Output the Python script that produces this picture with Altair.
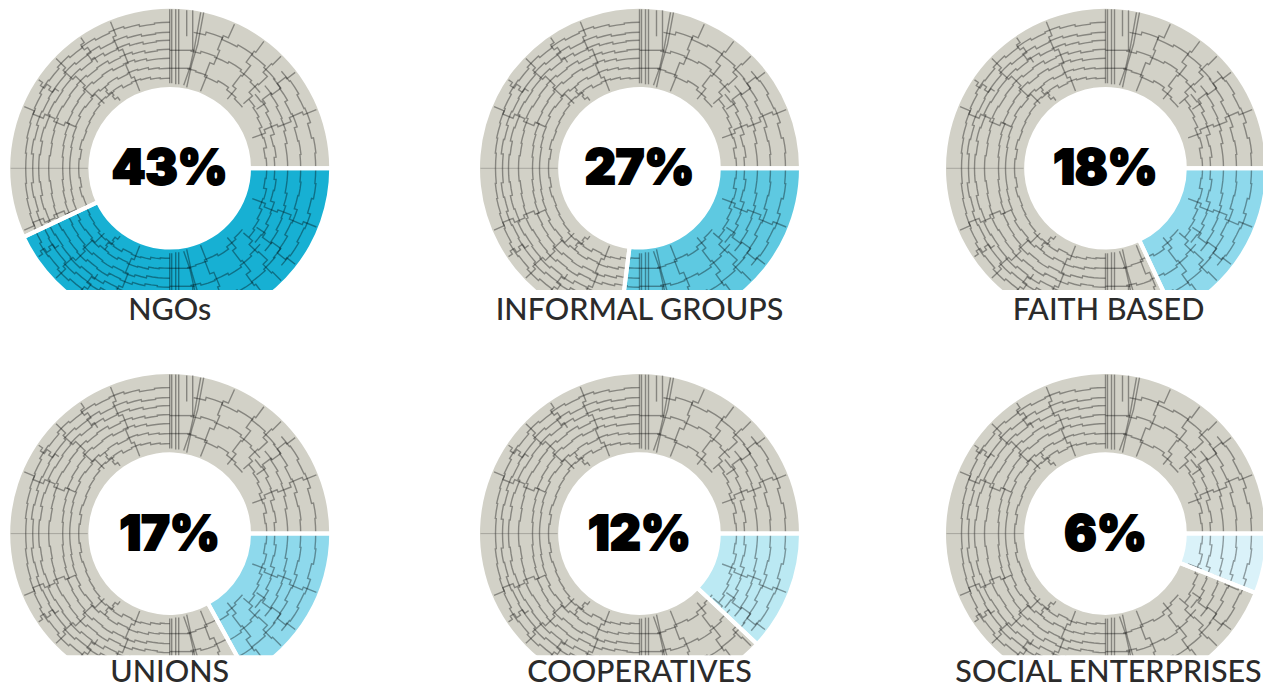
import altair as alt
import math
import pandas as pd

NAMES = ["NGOs", "INFORMAL GROUPS", "FAITH BASED", "UNIONS", "COOPERATIVES", "SOCIAL ENTERPRISES"]
PCTS = [43, 27, 18, 17, 12, 6]
COLORS = ["#17b0d3", "#5ec9e1", "#8ed9ec", "#8ed9ec", "#bbe9f3", "#daf2f9"]
GREY = "#d2d1c7"

# Texture: ring radii per angle (degrees, counter-clockwise from east)
LEFT_ANGLES = [90, 96, 102, 108, 114, 120, 126, 132, 138, 144, 150, 156, 162, 168, 174, 180]
LEFT_RINGS = [
    [146, 145, 147, 149, 148, 150, 149, 151, 149, 150, 148, 147, 146, 145, 144, 143],
    [136, 135, 137, 139, 138, 141, 140, 142, 140, 140, 139, 140, 138, 139, 137, 138],
    [128, 127, 129, 131, 130, 133, 132, 134, 133, 132, 133, 131, 132, 130, 131, 131],
    [119, 118, 120, 122, 121, 124, 123, 125, 124, 123, 124, 122, 121, 120, 121, 120],
    [110, 110, 112, 114, 113, 115, 114, 116, 114, 113, 112, 110, 109, 108, 107, 107],
    [100, 101, 103, 104, 103, 105, 104, 106, 104, 105, 103, 102, 101, 100, 100, 99],
    [90, 91, 93, 94, 93, 96, 95, 96, 94, 93, 92, 91, 92, 90, 91, 90],
]
RIGHT_ANGLES = [0, 6, 12, 18, 24, 30, 36, 41]
RIGHT_RINGS = [
    [146, 147, 145, 148, 147, 149, 148, 151],
    [131, 132, 131, 134, 133, 136, 137, 140],
    [118, 118, 120, 122, 123, 125, 126, 129],
    [105, 107, 106, 110, 111, 114, 113, 117],
    [97, 96, 99, 98, 101, 103, 105, 106],
]
CELL_ANGLES = [40, 47, 54, 61, 68, 75, 80]
CELL_RINGS = [
    [138, 140, 141, 139, 141, 138, 137],
    [118, 120, 122, 120, 121, 119, 118],
    [95, 97, 100, 98, 100, 101, 99],
]
# (angle at inner end, angle at outer end, inner radius, outer radius)
SPOKES = [
    (69, 66, 83, 158), (51, 55, 90, 158), (42, 47, 98, 158), (35, 39, 105, 158),
    (21, 23, 88, 158), (112, 113, 83, 158), (125, 125, 128, 158), (136, 137, 92, 158),
    (146, 147, 135, 158), (157, 158, 103, 158), (127, 130, 84, 104),
]
# Vertical bundle near the top: (x offsets, y offsets)
BUNDLE = [
    ([0, 0], [85, 159]), ([2, 2], [85, 159]), ([6, 6], [84, 159]), ([9, 9], [84, 159]),
    ([17, 17], [132, 158]), ([23, 23], [118, 158]),
    ([34, 28, 22, 17], [156, 124, 104, 81]), ([31, 25, 20, 14], [156, 122, 100, 83]),
    ([0, 25], [118, 118]), ([0, 21], [100, 100]),
]
THIN_X = [-159, -82]
THIN_Y = [0, 0]

rows = []
counter = [0]


def put(pts):
    counter[0] += 1
    for sign in (1, -1):
        for k, (a, r) in enumerate(pts):
            rows.append({"s": f"{counter[0]}_{sign}", "k": k,
                         "x": r * math.cos(math.radians(a)),
                         "y": sign * r * math.sin(math.radians(a))})


def ring(angles, radii):
    pts = []
    for i in range(len(angles) - 1):
        a0, a1 = angles[i], angles[i + 1]
        pts += [(a0, radii[i]), ((a0 + a1) / 2, radii[i]), (a1, radii[i])]
    put(pts)


def spoke(a0, a1, r0, r1):
    n = 5
    pts = []
    for i in range(n):
        a = a0 + (a1 - a0) * i / n + (0.8 if i % 2 else -0.8)
        pts += [(a, r0 + (r1 - r0) * i / n), (a, r0 + (r1 - r0) * (i + 1) / n)]
    put(pts)


for rs in LEFT_RINGS:
    ring(LEFT_ANGLES, rs)
for rs in RIGHT_RINGS:
    ring(RIGHT_ANGLES, rs)
for rs in CELL_RINGS:
    ring(CELL_ANGLES, rs)
for s in SPOKES:
    spoke(*s)
for j, (xs, ys) in enumerate(BUNDLE):
    for sign in (1, -1):
        for k, (x, y) in enumerate(zip(xs, ys)):
            rows.append({"s": f"b{j}_{sign}", "k": k, "x": x, "y": sign * y})
texture = pd.DataFrame(rows)
thin = pd.DataFrame({"x": THIN_X, "y": THIN_Y})

OUTER, INNER = 159.5, 81.3
CLIP_Y = -121.7
t_scale = alt.Scale(domain=[0, 100], range=[math.pi / 2, math.pi / 2 + 2 * math.pi])
# per row: plot height, centre below plot top, label baseline relative to centre
ROWS = [(314, 160.3, -151.2), (309, 160.6, -148.4)]
# per column: plot width, centre from plot left, label offset from centre
COLS = [(323, 161.7, 0), (324, 163.5, 0), (318, 160.5, 3)]


def panel(name, pct, color, row, col):
    H, CY, LABEL_Y = ROWS[row]
    W, CX, LABEL_X = COLS[col]
    x_scale = alt.Scale(domain=[-CX, W - CX], range=[0, W], nice=False, zero=False)
    y_scale = alt.Scale(domain=[CY - H, CY], range=[H, 0], nice=False, zero=False)
    X = alt.X("cx:Q", scale=x_scale, axis=None)
    Y = alt.Y("cy:Q", scale=y_scale, axis=None)
    arcs = pd.DataFrame({"a": [0, pct], "b": [pct, 100], "fill": [color, GREY], "cx": [0, 0], "cy": [0, 0]})
    base = alt.Chart(arcs).encode(
        x=X, y=Y,
        theta=alt.Theta("a:Q", scale=t_scale, stack=None),
        theta2="b:Q",
    )
    fills = base.mark_arc(radius=OUTER, radius2=INNER, clip=True).encode(color=alt.Color("fill:N", scale=None))
    line_x = alt.X("x:Q", scale=x_scale, axis=None)
    line_y = alt.Y("y:Q", scale=y_scale, axis=None)
    lines = alt.Chart(texture).mark_line(
        color="#000000", opacity=0.36, strokeWidth=1.4, clip=True
    ).encode(x=line_x, y=line_y, detail="s:N", order="k:Q")
    faint = alt.Chart(thin).mark_line(color="#000000", opacity=0.3, strokeWidth=0.7, clip=True).encode(x=line_x, y=line_y)
    seps = base.mark_arc(radius=OUTER + 3, radius2=INNER - 3, fillOpacity=0, stroke="#ffffff", strokeWidth=4, clip=True)
    mask = alt.Chart(pd.DataFrame({"x0": [-CX], "x1": [W - CX], "y0": [CLIP_Y], "y1": [CY - H]})).mark_rect(
        color="#ffffff", clip=True
    ).encode(
        x=alt.X("x0:Q", scale=x_scale, axis=None), x2="x1:Q",
        y=alt.Y("y0:Q", scale=y_scale, axis=None), y2="y1:Q",
    )
    pct_text = alt.Chart(pd.DataFrame({"t": [f"{pct}%"], "cx": [0], "cy": [0]})).mark_text(
        font="Inter", fontSize=48, fontWeight=900, color="#000000", baseline="middle", align="center",
        stroke="#000000", strokeWidth=2, dy=2,
    ).encode(x=X, y=Y, text="t:N")
    name_text = alt.Chart(pd.DataFrame({"t": [name], "cx": [LABEL_X], "cy": [LABEL_Y]})).mark_text(
        font="Lato", fontSize=30.5, fontWeight=500, color="#2b2b2b", baseline="alphabetic", align="center", clip=True,
    ).encode(x=X, y=Y, text="t:N")
    return alt.layer(fills, lines, faint, seps, mask, pct_text, name_text).properties(width=W, height=H)


row1 = alt.hconcat(*[panel(NAMES[i], PCTS[i], COLORS[i], 0, i) for i in range(3)], spacing=145)
row2 = alt.hconcat(*[panel(NAMES[i + 3], PCTS[i + 3], COLORS[i + 3], 1, i) for i in range(3)], spacing=145)
chart = alt.vconcat(row1, row2, spacing=51).properties(
    padding=0, background="#ffffff"
).configure_view(stroke=None)

chart.save("out.html", embed_options={"renderer": "svg", "actions": False})
